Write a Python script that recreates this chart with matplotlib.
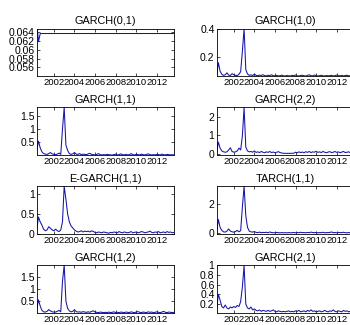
import matplotlib
matplotlib.use('Agg')
import matplotlib.pyplot as plt
import numpy as np

plt.rcParams['font.family'] = ['Liberation Sans', 'DejaVu Sans']
plt.rcParams['font.size'] = 7.5

# 条件波动率 (bimonthly, 2000.33 .. 2013.67)
start, end = 2000.33, 2013.67

garch01_years = [2000.33, 2000.50, 2000.67, 2013.67]
garch01 = [0.0660, 0.0618, 0.0636, 0.0636]

garch10 = [0.068, 0.160, 0.100, 0.078, 0.070, 0.074, 0.088, 0.072, 0.069, 0.082,
           0.074, 0.070, 0.069, 0.078, 0.096, 0.240, 0.400, 0.110, 0.080, 0.070,
           0.074, 0.069, 0.079, 0.070, 0.068, 0.072, 0.069, 0.075, 0.068, 0.067,
           0.071, 0.069, 0.074, 0.068, 0.067, 0.070, 0.066, 0.068, 0.072, 0.067,
           0.066, 0.069, 0.067, 0.066, 0.070, 0.068, 0.073, 0.067, 0.066, 0.069,
           0.071, 0.067, 0.066, 0.070, 0.074, 0.068, 0.067, 0.072, 0.069, 0.066,
           0.068, 0.071, 0.067, 0.066, 0.069, 0.067, 0.068, 0.070, 0.066, 0.068,
           0.072, 0.068, 0.067, 0.070, 0.066, 0.069, 0.071, 0.067, 0.068, 0.067,
           0.069]

garch11 = [0.20, 0.55, 0.30, 0.15, 0.08, 0.06, 0.05, 0.08, 0.12, 0.07,
           0.05, 0.04, 0.06, 0.10, 0.05, 1.00, 1.82, 0.40, 0.20, 0.08,
           0.05, 0.07, 0.12, 0.06, 0.05, 0.08, 0.04, 0.06, 0.05, 0.04,
           0.07, 0.09, 0.05, 0.04, 0.03, 0.05, 0.08, 0.04, 0.03, 0.04,
           0.03, 0.05, 0.04, 0.03, 0.03, 0.04, 0.06, 0.03, 0.04, 0.07,
           0.04, 0.03, 0.05, 0.03, 0.04, 0.08, 0.04, 0.03, 0.05, 0.04,
           0.03, 0.06, 0.04, 0.03, 0.05, 0.07, 0.04, 0.03, 0.04, 0.03,
           0.05, 0.04, 0.03, 0.06, 0.04, 0.03, 0.05, 0.04, 0.03, 0.04,
           0.03]

garch22 = [0.10, 0.62, 0.30, 0.15, 0.10, 0.08, 0.10, 0.20, 0.32, 0.12,
           0.08, 0.10, 0.15, 0.30, 0.20, 0.95, 2.49, 0.35, 0.15, 0.10,
           0.12, 0.08, 0.15, 0.07, 0.10, 0.06, 0.12, 0.08, 0.05, 0.10,
           0.07, 0.12, 0.06, 0.09, 0.05, 0.08, 0.11, 0.06, 0.04, 0.02,
           0.02, 0.02, 0.02, 0.02, 0.02, 0.03, 0.08, 0.05, 0.10, 0.06,
           0.09, 0.05, 0.11, 0.07, 0.12, 0.06, 0.10, 0.08, 0.13, 0.07,
           0.10, 0.06, 0.12, 0.08, 0.05, 0.09, 0.11, 0.06, 0.08, 0.12,
           0.07, 0.10, 0.05, 0.09, 0.12, 0.06, 0.08, 0.10, 0.05, 0.07,
           0.06]

egarch11 = [0.10, 0.42, 0.30, 0.22, 0.12, 0.08, 0.10, 0.18, 0.14, 0.10,
            0.08, 0.12, 0.08, 0.06, 0.10, 0.30, 1.18, 0.86, 0.50, 0.30,
            0.20, 0.15, 0.10, 0.07, 0.05, 0.06, 0.08, 0.05, 0.07, 0.06,
            0.07, 0.05, 0.08, 0.06, 0.04, 0.03, 0.05, 0.04, 0.03, 0.05,
            0.04, 0.03, 0.02, 0.04, 0.03, 0.05, 0.04, 0.03, 0.06, 0.04,
            0.03, 0.05, 0.04, 0.03, 0.04, 0.06, 0.03, 0.04, 0.05, 0.03,
            0.04, 0.06, 0.05, 0.03, 0.04, 0.05, 0.07, 0.04, 0.03, 0.05,
            0.04, 0.06, 0.03, 0.04, 0.05, 0.03, 0.06, 0.04, 0.05, 0.03,
            0.04]

tarch11 = [0.10, 0.95, 0.40, 0.20, 0.10, 0.08, 0.15, 0.30, 0.15, 0.10,
           0.08, 0.12, 0.20, 0.10, 0.18, 1.80, 3.24, 1.20, 0.40, 0.15,
           0.10, 0.08, 0.12, 0.06, 0.05, 0.08, 0.04, 0.06, 0.05, 0.07,
           0.04, 0.09, 0.05, 0.04, 0.03, 0.06, 0.04, 0.03, 0.05, 0.03,
           0.04, 0.03, 0.05, 0.03, 0.04, 0.06, 0.03, 0.05, 0.04, 0.07,
           0.04, 0.05, 0.03, 0.06, 0.04, 0.08, 0.05, 0.04, 0.06, 0.03,
           0.05, 0.04, 0.07, 0.03, 0.05, 0.04, 0.06, 0.09, 0.04, 0.05,
           0.03, 0.06, 0.04, 0.05, 0.07, 0.04, 0.03, 0.05, 0.04, 0.06,
           0.05]

garch12 = [0.15, 0.55, 0.30, 0.12, 0.06, 0.05, 0.08, 0.15, 0.10, 0.06,
           0.05, 0.05, 0.08, 0.12, 0.06, 1.30, 1.97, 0.50, 0.20, 0.10,
           0.06, 0.08, 0.15, 0.07, 0.05, 0.06, 0.04, 0.07, 0.05, 0.04,
           0.06, 0.04, 0.08, 0.10, 0.05, 0.04, 0.03, 0.05, 0.04, 0.03,
           0.04, 0.03, 0.05, 0.03, 0.04, 0.06, 0.03, 0.04, 0.03, 0.05,
           0.04, 0.03, 0.05, 0.04, 0.03, 0.06, 0.04, 0.03, 0.05, 0.07,
           0.04, 0.03, 0.05, 0.04, 0.03, 0.06, 0.04, 0.05, 0.03, 0.04,
           0.06, 0.04, 0.03, 0.05, 0.08, 0.04, 0.03, 0.05, 0.04, 0.03,
           0.04]

garch21 = [0.10, 0.40, 0.28, 0.15, 0.12, 0.18, 0.12, 0.10, 0.14, 0.12,
           0.15, 0.13, 0.17, 0.15, 0.25, 0.55, 0.99, 0.20, 0.12, 0.10,
           0.14, 0.08, 0.10, 0.07, 0.06, 0.08, 0.05, 0.07, 0.06, 0.05,
           0.07, 0.05, 0.06, 0.08, 0.05, 0.04, 0.06, 0.05, 0.04, 0.05,
           0.04, 0.05, 0.06, 0.04, 0.05, 0.04, 0.06, 0.05, 0.07, 0.04,
           0.05, 0.06, 0.04, 0.07, 0.05, 0.08, 0.05, 0.06, 0.04, 0.05,
           0.06, 0.04, 0.05, 0.07, 0.05, 0.04, 0.06, 0.05, 0.08, 0.05,
           0.04, 0.06, 0.05, 0.04, 0.07, 0.05, 0.06, 0.04, 0.05, 0.04,
           0.05]

titles = ['GARCH(0,1)', 'GARCH(1,0)', 'GARCH(1,1)', 'GARCH(2,2)',
          'E-GARCH(1,1)', 'TARCH(1,1)', 'GARCH(1,2)', 'GARCH(2,1)']
series = [garch01, garch10, garch11, garch22, egarch11, tarch11, garch12, garch21]
ylims = [(0.054, 0.0647), (0.063, 0.40), (0.02, 1.82), (-0.08, 2.49),
         (0.0, 1.18), (-0.05, 3.24), (0.02, 1.97), (0.02, 0.99)]
yticks = [[0.056, 0.058, 0.06, 0.062, 0.064], [0.2, 0.4], [0.5, 1, 1.5], [0, 1, 2],
          [0, 0.5, 1], [0, 2], [0.5, 1, 1.5], [0.2, 0.4, 0.6, 0.8, 1]]
xticks = [2002, 2004, 2006, 2008, 2010, 2012]

fig = plt.figure(figsize=(3.5, 3.25), dpi=100)

lefts = [0.105, 0.619]
bottoms = [0.765, 0.5225, 0.28, 0.0375]
w, h = 0.392, 0.147

for k in range(8):
    ax = fig.add_axes([lefts[k % 2], bottoms[k // 2], w, h])
    y = series[k]
    if k == 0:
        t = garch01_years
    else:
        t = np.linspace(start, end, len(y))
    ax.plot(t, y, color='#1414a8', lw=0.75)
    ax.set_xlim(start, end)
    ax.set_ylim(*ylims[k])
    ax.set_xticks(xticks)
    ax.set_xticklabels([str(x) for x in xticks])
    ax.set_yticks(yticks[k])
    ax.set_yticklabels(['%g' % v for v in yticks[k]])
    ax.tick_params(direction='in', top=True, right=True, length=2, width=0.5,
                   pad=1.5, labelsize=7.5)
    ax.tick_params(axis='x', labelsize=6.8)
    for s in ax.spines.values():
        s.set_linewidth(0.6)
    ax.set_title(titles[k], fontsize=7.8, pad=3)

fig.savefig('out.png', dpi=100)
